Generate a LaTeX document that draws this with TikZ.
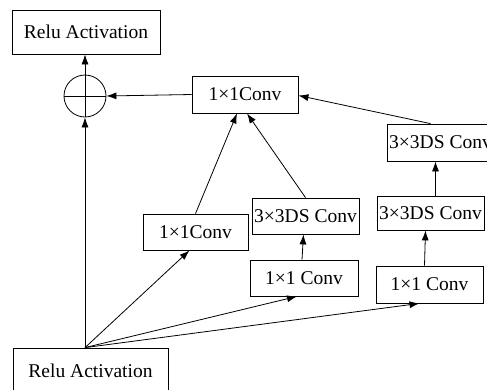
\documentclass[tikz,border=0pt]{standalone}
\usepackage{fontspec}
\setmainfont{Liberation Serif}
\usetikzlibrary{arrows.meta}
\begin{document}
\begin{tikzpicture}[x=1pt,y=-1pt,
  boxstyle/.style={draw,thick,rectangle,inner sep=0pt,font=\fontsize{19.5}{21}\selectfont},
  addstyle/.style={draw,thick,circle,minimum size=42pt,inner sep=0pt},
  arrowstyle/.style={thick,-{Latex[length=10pt,width=7pt]}}]
\useasboundingbox (0,0) rectangle (487,389);
\clip (0,0) rectangle (487,389);
% nodes
\node[boxstyle,minimum width=148pt,minimum height=44pt] (reluTop) at (86,32) {Relu Activation};
\node[addstyle] (add) at (85,96) {};
\draw[thick] (add.north) -- (add.south) (add.west) -- (add.east);
\node[boxstyle,minimum width=106pt,minimum height=37pt] (convTop) at (245,94.5) {1×1Conv};
\node[boxstyle,minimum width=105pt,minimum height=36pt] (convA) at (195.5,232) {1×1Conv};
\node[boxstyle,minimum width=107pt,minimum height=36pt] (dsB) at (305.5,216) {3×3DS Conv};
\node[boxstyle,minimum width=108pt,minimum height=36pt] (convB) at (304,278) {1×1 Conv};
\node[boxstyle,minimum width=107pt,minimum height=37pt] (dsC2) at (440.5,142.5) {3×3DS Conv};
\node[boxstyle,minimum width=107pt,minimum height=34pt] (dsC1) at (430.5,213) {3×3DS Conv};
\node[boxstyle,minimum width=107pt,minimum height=37pt] (convC) at (429.5,284.5) {1×1 Conv};
\node[boxstyle,minimum width=155pt,minimum height=46pt] (reluBot) at (90.5,371) {Relu Activation};
\coordinate (src) at (add |- reluBot.north);
% connectors
\draw[arrowstyle] (src) -- (add.south);
\draw[arrowstyle] (add.north) -- (add |- reluTop.south);
\draw[arrowstyle] (convTop.west) -- (add.east);
\draw[arrowstyle] (src) -- ([xshift=-6pt]convA.south);
\draw[arrowstyle] (src) -- ([xshift=-7pt]convB.south);
\draw[arrowstyle] (src) -- ([xshift=-10pt]convC.south);
\draw[arrowstyle] (convA.north) -- ([xshift=-8pt]convTop.south);
\draw[arrowstyle] (dsB.north) -- ([xshift=2pt]convTop.south);
\draw[arrowstyle] ([xshift=-2pt]convB.north) -- ([xshift=-2pt]dsB.south);
\draw[arrowstyle] ([xshift=-5pt]convC.north) -- ([xshift=-5pt]dsC1.south);
\draw[arrowstyle] ([xshift=5pt]dsC1.north) -- ([xshift=-5pt]dsC2.south);
\draw[arrowstyle] ([xshift=-10pt]dsC2.north) -- ([yshift=-1pt]convTop.east);
\end{tikzpicture}
\end{document}
